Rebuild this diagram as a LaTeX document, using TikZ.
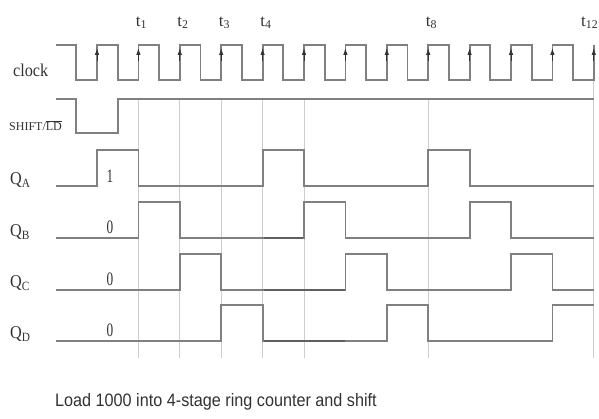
\documentclass[tikz,border=0pt]{standalone}
\usepackage{fontspec}
\setmainfont{Liberation Serif}
\newfontfamily\capfont{Liberation Sans}
\usetikzlibrary{arrows.meta}
\definecolor{wavegray}{RGB}{128,128,128}
\definecolor{wavedark}{RGB}{95,95,95}
\definecolor{gridgray}{RGB}{205,205,205}
\definecolor{txtgray}{RGB}{50,50,50}
\begin{document}
\begin{tikzpicture}[x=1pt,y=-1pt,
  wave/.style={draw=wavegray,line width=1.8pt,line join=miter},
  wavedk/.style={draw=wavedark,line width=1.8pt},
  gridline/.style={draw=gridgray,line width=0.8pt},
  edgearrow/.style={-{Latex[length=7pt,width=4.5pt]},draw=black!80,line width=0.9pt},
  lbl/.style={text=txtgray,inner sep=0pt,font=\fontsize{18}{18}\selectfont},
  tlbl/.style={text=txtgray,inner sep=0pt,font=\fontsize{17}{17}\selectfont,anchor=south},
  val/.style={text=txtgray,inner sep=0pt,font=\fontsize{19}{19}\selectfont}]
\useasboundingbox (0,0) rectangle (599,419);
\clip (0,0) rectangle (599,419);
% grid lines
\foreach \gx in {138.4,179.8,221.2,262.6,304,428.2}
  \draw[gridline] (\gx,99) -- (\gx,358);
\draw[gridline] (593.8,80) -- (593.8,358);
% clock
\draw[wave] (56,45) -- (76.3,45) -- (76.3,80)
  foreach \k in {0,...,11} { -- ({97+41.4*\k},80) -- ({97+41.4*\k},45) -- ({117.7+41.4*\k},45) -- ({117.7+41.4*\k},80) }
  -- (593.8,80) -- (593.8,45);
\foreach \k in {0,...,12}
  \draw[edgearrow] ({97+41.4*\k},61) -- ({97+41.4*\k},48);
% shift/load
\draw[wave] (56,99) -- (76.3,99) -- (76.3,133) -- (117.7,133) -- (117.7,99) -- (593.8,99);
% QA
\draw[wave] (56,186) -- (97,186) -- (97,150) -- (138.4,150) -- (138.4,186) -- (262.6,186) -- (262.6,150) -- (304,150) -- (304,186) -- (428.2,186) -- (428.2,150) -- (469.6,150) -- (469.6,186) -- (593.8,186);
% QB
\draw[wave] (56,238) -- (138.4,238) -- (138.4,202) -- (179.8,202) -- (179.8,238) -- (304,238) -- (304,202) -- (345.4,202) -- (345.4,238) -- (469.6,238) -- (469.6,202) -- (511,202) -- (511,238) -- (593.8,238);
% QC
\draw[wave] (56,290) -- (179.8,290) -- (179.8,254) -- (221.2,254) -- (221.2,290) -- (345.4,290) -- (345.4,254) -- (386.8,254) -- (386.8,290) -- (511,290) -- (511,254) -- (552.4,254) -- (552.4,290) -- (593.8,290);
% QD
\draw[wave] (56,341) -- (221.2,341) -- (221.2,305) -- (262.6,305) -- (262.6,341) -- (386.8,341) -- (386.8,305) -- (428.2,305) -- (428.2,341) -- (552.4,341) -- (552.4,305) -- (593.8,305);
% darker overlapping stretches
\draw[wavedk] (263.5,238) -- (303,238);
\draw[wavedk] (263.5,290) -- (344.5,290);
\draw[wavedk] (263.5,341) -- (344.5,341);
% t labels
\node[tlbl] (t1) at (141.5,29) {t\textsubscript{1}};
\node[tlbl] (t2) at (183,29) {t\textsubscript{2}};
\node[tlbl] (t3) at (224.5,29) {t\textsubscript{3}};
\node[tlbl] (t4) at (266,29) {t\textsubscript{4}};
\node[tlbl] (t8) at (431.5,29) {t\textsubscript{8}};
\node[tlbl,anchor=south east] (t12) at (598.5,29) {t\textsubscript{12}};
% signal labels
\node[lbl,anchor=west] (clk) at (13,70) {\scalebox{0.9}[1]{clock}};
\node[lbl,anchor=west,font=\fontsize{12}{12}\selectfont] (sh) at (9,126) {SHIFT/$\overline{\mbox{LD}}$};
\node[lbl,anchor=west] (qa) at (10,180) {\scalebox{0.9}[1]{Q\textsubscript{A}}};
\node[lbl,anchor=west] (qb) at (10,232) {\scalebox{0.9}[1]{Q\textsubscript{B}}};
\node[lbl,anchor=west] (qc) at (10,283) {\scalebox{0.9}[1]{Q\textsubscript{C}}};
\node[lbl,anchor=west] (qd) at (10,334) {\scalebox{0.9}[1]{Q\textsubscript{D}}};
% values
\node[val] (va) at (110,176) {\scalebox{0.7}[1]{1}};
\node[val] (vb) at (110,227) {\scalebox{0.7}[1]{0}};
\node[val] (vc) at (110,279) {\scalebox{0.7}[1]{0}};
\node[val] (vd) at (110,330) {\scalebox{0.7}[1]{0}};
% caption
\node[anchor=west,inner sep=0pt,text=txtgray] (cap) at (55,402) {\scalebox{0.9}[1]{\capfont\fontsize{18}{18}\selectfont Load 1000 into 4-stage ring counter and shift}};
\end{tikzpicture}
\end{document}
